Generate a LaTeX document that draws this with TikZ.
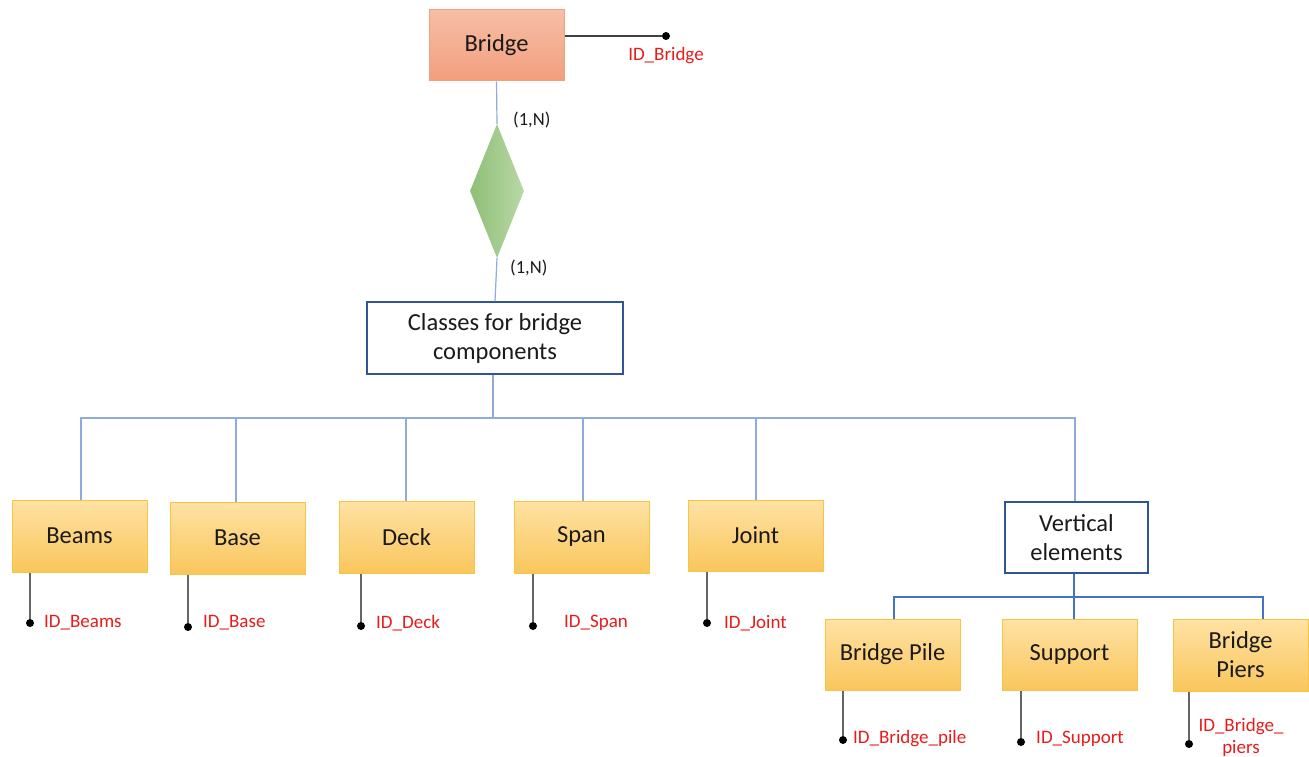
\documentclass[tikz,border=0pt]{standalone}
\usepackage{fontspec}
\setmainfont{Carlito}
\usetikzlibrary{shapes.geometric}

\definecolor{entTop}{HTML}{F7BEA6}
\definecolor{entBot}{HTML}{F29E7D}
\definecolor{entLine}{HTML}{EFA07F}
\definecolor{clsTop}{HTML}{FFE2A4}
\definecolor{clsBot}{HTML}{F9C65C}
\definecolor{clsLine}{HTML}{F7C444}
\definecolor{relL}{HTML}{8EBF78}
\definecolor{relR}{HTML}{B9D8A5}
\definecolor{grpLine}{HTML}{2F5597}
\definecolor{busLight}{HTML}{8FAADC}
\definecolor{busDark}{HTML}{4472C4}
\definecolor{idRed}{HTML}{E81B1B}
\definecolor{ink}{HTML}{1A1A1A}

\tikzset{
  entity/.style={rectangle, draw=entLine, line width=1pt, top color=entTop, bottom color=entBot,
    minimum width=135pt, minimum height=71pt, inner sep=0pt, text=ink,
    font=\fontsize{24.5}{29}\selectfont},
  compbox/.style={rectangle, draw=clsLine, line width=1pt, top color=clsTop, bottom color=clsBot,
    minimum width=135pt, minimum height=72pt, inner sep=0pt, text=ink, align=center,
    font=\fontsize{24.5}{29}\selectfont},
  groupbox/.style={rectangle, draw=grpLine, line width=1.3pt, fill=white,
    inner sep=0pt, text=ink, align=center, font=\fontsize{24.5}{29}\selectfont},
  relation/.style={diamond, draw=none, left color=relL, right color=relR,
    minimum width=54pt, minimum height=134pt, inner sep=0pt},
  bus/.style={draw=busLight, line width=1.2pt},
  busdark/.style={draw=busDark, line width=1.4pt},
  attr/.style={draw=black!60, line width=1.4pt},
  attrdot/.style={circle, fill=black, inner sep=0pt, minimum size=8pt},
  idlabel/.style={text=idRed, font=\fontsize{19}{22}\selectfont, inner sep=0pt},
  card/.style={text=ink, font=\fontsize{18.5}{22}\selectfont, inner sep=0pt}
}

\begin{document}
\begin{tikzpicture}[x=1pt,y=-1pt]
\useasboundingbox (0,0) rectangle (1309,757);

% entity, relationship and class hierarchy
\node[entity] (bridge) at (496.5,45.5) {\raisebox{-3pt}{Bridge}};
\node[relation] (rel) at (497,191) {};
\node[groupbox, minimum width=256pt, minimum height=72pt] (classes) at (495,338)
  {Classes for bridge\\components};

\node[compbox] (beams) at (79.5,536) {Beams};
\node[compbox] (base)  at (237.5,538) {Base};
\node[compbox] (deck)  at (406.5,537) {Deck};
\node[compbox] (span)  at (581.5,537) {Span};
\node[compbox, minimum height=71pt] (joint) at (755.5,535.5) {Joint};
\node[groupbox, minimum width=143pt, minimum height=71pt] (vert) at (1076.5,537.5)
  {Vertical\\elements};

\node[compbox, minimum height=71pt] (pile) at (892.5,654.5) {Bridge Pile};
\node[compbox, minimum height=71pt] (support) at (1069.5,654.5) {Support};
\node[compbox] (piers) at (1240.5,655) {Bridge\\Piers};

% relationship connectors and cardinalities
\draw[bus] (bridge.south) -- (rel.north);
\draw[bus] (rel.south) -- (classes.north);
\node[card, anchor=west] (c1) at (513,120) {(1,N)};
\node[card, anchor=west] (c2) at (510,268) {(1,N)};

% hierarchy bus under the class box
\coordinate (hub) at (493,418);
\draw[bus] (classes.south -| hub) -- (hub);
\foreach \n/\x in {beams/81,base/236,deck/406,span/583,joint/756,vert/1075}
  \draw[bus] (\x,0 |- \n.north) |- (hub);

% bus under the vertical elements
\coordinate (vhub) at (1074,597);
\draw[busdark] (vert.south -| vhub) -- (vhub);
\foreach \n/\x in {pile/894,support/1074,piers/1263}
  \draw[busdark] (\x,0 |- \n.north) |- (vhub);

% identifiers
\node[attrdot] (dBridge) at (666,36) {};
\draw[attr, draw=black!75, line width=1.2pt] (dBridge -| bridge.east) -- (dBridge);
\node[idlabel] (lBridge) at (666,56) {ID\_Bridge};

\node[attrdot] (dBeams) at (30,623) {};
\draw[attr] (dBeams |- beams.south) -- (dBeams);
\node[idlabel, anchor=west] (lBeams) at (44,623) {ID\_Beams};

\node[attrdot] (dBase) at (188,627) {};
\draw[attr] (dBase |- base.south) -- (dBase);
\node[idlabel, anchor=west] (lBase) at (203,623) {ID\_Base};

\node[attrdot] (dDeck) at (361,626) {};
\draw[attr] (dDeck |- deck.south) -- (dDeck);
\node[idlabel, anchor=west] (lDeck) at (376,623) {ID\_Deck};

\node[attrdot] (dSpan) at (533,626) {};
\draw[attr] (dSpan |- span.south) -- (dSpan);
\node[idlabel, anchor=west] (lSpan) at (564,623) {ID\_Span};

\node[attrdot] (dJoint) at (707,623) {};
\draw[attr] (dJoint |- joint.south) -- (dJoint);
\node[idlabel, anchor=west] (lJoint) at (724,623) {ID\_Joint};

\node[attrdot] (dPile) at (843,740) {};
\draw[attr] (dPile |- pile.south) -- (dPile);
\node[idlabel, anchor=west] (lPile) at (853,739) {ID\_Bridge\_pile};

\node[attrdot] (dSupport) at (1021,742) {};
\draw[attr] (dSupport |- support.south) -- (dSupport);
\node[idlabel, anchor=west] (lSupport) at (1036,739) {ID\_Support};

\node[attrdot] (dPiers) at (1189,744) {};
\draw[attr] (dPiers |- piers.south) -- (dPiers);
\node[idlabel, align=center] (lPiers) at (1241,737) {ID\_Bridge\_\\piers};
\end{tikzpicture}
\end{document}
